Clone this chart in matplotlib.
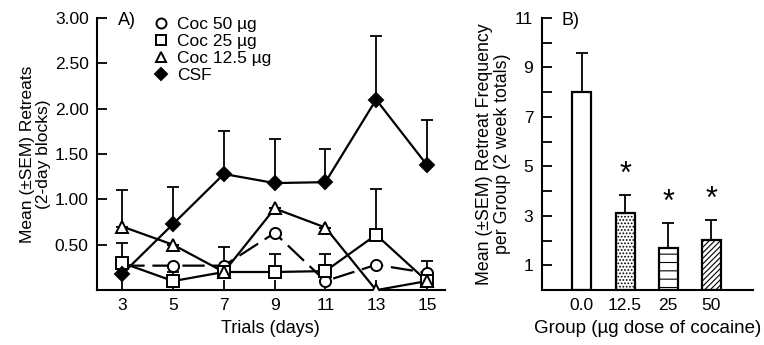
import matplotlib.pyplot as plt
import numpy as np

plt.rcParams['font.family'] = ['Liberation Sans', 'DejaVu Sans']
plt.rcParams['font.size'] = 11
plt.rcParams['hatch.linewidth'] = 0.8

# panel A data
days = [3, 5, 7, 9, 11, 13, 15]
coc50 = [0.27, 0.27, 0.27, 0.63, 0.10, 0.28, 0.19]
coc50_err = [0, 0, 0.20, 0, 0, 0, 0.13]
coc25 = [0.30, 0.10, 0.20, 0.20, 0.21, 0.61, 0.10]
coc25_err = [0.22, 0.10, 0, 0.20, 0.19, 0.50, 0]
coc12 = [0.70, 0.50, 0.20, 0.90, 0.69, 0.0, 0.10]
coc12_err = [0.40, 0, 0, 0, 0, 0, 0]
csf = [0.18, 0.73, 1.28, 1.18, 1.19, 2.10, 1.38]
csf_err = [0, 0.41, 0.47, 0.49, 0.37, 0.70, 0.50]

# panel B data
groups = ['0.0', '12.5', '25', '50']
freq = [8.0, 3.13, 1.71, 2.02]
freq_err = [1.6, 0.73, 1.01, 0.81]
hatches = ['', '.....', '--', '//////']
signif = [False, True, True, True]

fig = plt.figure(figsize=(7.64, 3.45), dpi=100)
axA = fig.add_axes([0.127, 0.159, 0.455, 0.789])
axB = fig.add_axes([0.709, 0.159, 0.277, 0.789])

series = [
    (coc50, coc50_err, 'o', (0, (10, 3.5)), 'Coc 50 µg', 'white'),
    (coc25, coc25_err, 's', '-', 'Coc 25 µg', 'white'),
    (coc12, coc12_err, '^', '-', 'Coc 12.5 µg', 'white'),
    (csf, csf_err, 'D', '-', 'CSF', 'black'),
]
for vals, err, mk, ls, lab, fc in series:
    axA.errorbar(days, vals, yerr=[np.zeros(len(err)), err], fmt='none',
                 ecolor='black', elinewidth=1.3, capsize=4, capthick=1.3, zorder=1)
    axA.plot(days, vals, color='black', lw=1.6, ls=ls, zorder=2)
    axA.plot(days, vals, ls='none', marker=mk, ms=8 if mk != 'D' else 7,
             mfc=fc, mec='black', mew=1.4, zorder=3, label=lab)

axA.set_xlim(2, 15.7)
axA.set_ylim(0, 3.0)
axA.set_xticks(days)
axA.set_yticks([0.5, 1.0, 1.5, 2.0, 2.5, 3.0])
axA.set_yticklabels(['0.50', '1.00', '1.50', '2.00', '2.50', '3.00'])
axA.set_xlabel('Trials (days)', fontsize=13, labelpad=5)
axA.set_ylabel('Mean (±SEM) Retreats\n(2-day blocks)', fontsize=12.5, labelpad=3,
               linespacing=1.05)
axA.text(0.06, 0.99, 'A)', transform=axA.transAxes, fontsize=13, va='center')
axA.legend(loc='upper left', bbox_to_anchor=(0.135, 1.035), frameon=False,
           handlelength=1.0, handletextpad=0.4, borderpad=0, labelspacing=0.1,
           fontsize=12.5, markerscale=0.9)

x = np.arange(len(groups))
for i in range(len(groups)):
    axB.bar(x[i], freq[i], width=0.44, color='white', edgecolor='black',
            lw=1.6, hatch=hatches[i], zorder=2)
axB.errorbar(x, freq, yerr=[np.zeros(len(freq)), freq_err], fmt='none',
             ecolor='black', elinewidth=1.3, capsize=4, capthick=1.3, zorder=1)
for i in range(len(groups)):
    if signif[i]:
        axB.text(x[i], freq[i] + freq_err[i] + 0.2, '*', ha='center', va='bottom',
                 fontsize=22)
axB.set_xlim(-0.93, 3.97)
axB.set_ylim(0, 11)
axB.set_xticks(x)
axB.set_xticklabels(groups)
axB.set_yticks([1, 3, 5, 7, 9, 11])
axB.set_yticks([2, 4, 6, 8, 10], minor=True)
axB.set_xlabel('Group (µg dose of cocaine)', fontsize=13.5, labelpad=5)
axB.set_ylabel('Mean (±SEM) Retreat Frequency\nper Group (2 week totals)',
               fontsize=12.8, labelpad=3, linespacing=1.05)
axB.text(0.095, 0.99, 'B)', transform=axB.transAxes, fontsize=13, va='center')

for ax in (axA, axB):
    ax.spines['top'].set_visible(False)
    ax.spines['right'].set_visible(False)
    ax.spines['left'].set_linewidth(1.5)
    ax.spines['bottom'].set_linewidth(1.5)
    ax.tick_params(direction='in', length=7, width=1.3, labelsize=12.5, pad=6)
    ax.tick_params(which='minor', direction='in', length=7, width=1.3)
axB.tick_params(axis='x', length=0)

plt.savefig('out.png', dpi=100)
